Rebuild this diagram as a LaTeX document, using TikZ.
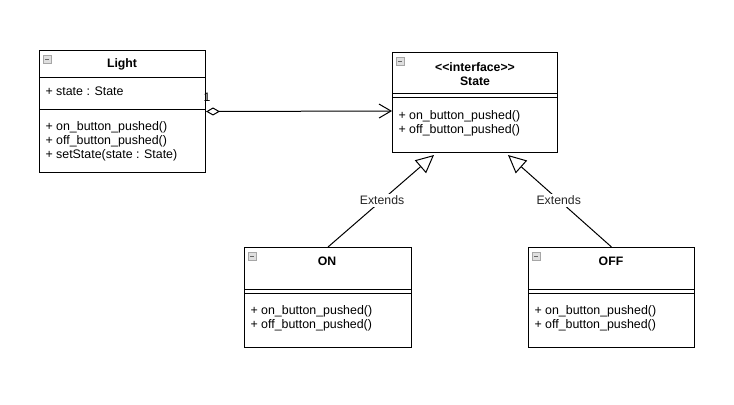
\documentclass[tikz,border=0pt]{standalone}
\usepackage{fontspec}
\setmainfont{Liberation Sans}
\usetikzlibrary{arrows.meta}
\begin{document}
\begin{tikzpicture}[x=0.75pt,y=-0.75pt,line width=0.75pt,
  classbox/.style={draw=black,fill=white,rectangle,anchor=north west,inner sep=0pt},
  title/.style={font=\fontsize{9.2}{10.5}\selectfont\bfseries,inner sep=0pt,align=center},
  member/.style={font=\fontsize{9.3}{10.5}\selectfont,inner sep=0pt,anchor=west,align=left},
  icon/.style={draw=gray!70,fill=gray!25,line width=0.5pt,minimum size=6.2pt,inner sep=0pt,rectangle},
  lbl/.style={font=\fontsize{9.2}{10.5}\selectfont,fill=white,inner sep=1.5pt,text=black!85},
  gen/.style={-{Triangle[open,length=13.5pt,width=12.75pt,fill=white]}},
  agg/.style={{Diamond[open,length=10.5pt,width=6pt,fill=white]}-{Straight Barb[length=9pt,width=10.5pt]}}
]
\useasboundingbox (0,0) rectangle (734,404);

% Light
\node[classbox,minimum width=166*0.75pt,minimum height=122*0.75pt] (light) at (39,50) {};
\draw (39,77) -- (205,77);
\draw (39,109) -- (205,109);
\node[icon] (ilight) at (47,59) {};
\draw[gray!80!black,line width=0.7pt] (44.8,59) -- (49.2,59);
\node[title] (tlight) at (122,64) {Light};
\node[member] (alight) at (45,91) {+ state : State};
\node[member] (mlight) at (45,141.5) {+ on\_button\_pushed()\\+ off\_button\_pushed()\\+ setState(state : State)};

% State
\node[classbox,minimum width=165*0.75pt,minimum height=100*0.75pt] (state) at (392,52) {};
\draw (392,93) -- (557,93);
\draw (392,97) -- (557,97);
\node[icon] (istate) at (400,61) {};
\draw[gray!80!black,line width=0.7pt] (397.8,61) -- (402.2,61);
\node[title] (tstate) at (475,74) {\hbox{<}\hbox{<}interface\hbox{>}\hbox{>}\\State};
\node[member] (mstate) at (398,123.5) {+ on\_button\_pushed()\\+ off\_button\_pushed()};

% ON
\node[classbox,minimum width=167*0.75pt,minimum height=100*0.75pt] (on) at (244,247) {};
\draw (244,289) -- (411,289);
\draw (244,293) -- (411,293);
\node[icon] (ion) at (252,256) {};
\draw[gray!80!black,line width=0.7pt] (249.8,256) -- (254.2,256);
\node[title] (ton) at (327,261) {ON};
\node[member] (mon) at (250,318.5) {+ on\_button\_pushed()\\+ off\_button\_pushed()};

% OFF
\node[classbox,minimum width=166*0.75pt,minimum height=100*0.75pt] (off) at (528,247) {};
\draw (528,289) -- (694,289);
\draw (528,293) -- (694,293);
\node[icon] (ioff) at (536,256) {};
\draw[gray!80!black,line width=0.7pt] (533.8,256) -- (538.2,256);
\node[title] (toff) at (611,261) {OFF};
\node[member] (moff) at (534,318.5) {+ on\_button\_pushed()\\+ off\_button\_pushed()};

% connectors
\coordinate (sin) at (392,111);
\coordinate (ontip) at (434,155);
\coordinate (offtip) at (508,155);
\draw[agg] (light.east) -- (sin);
\node[font=\fontsize{9.2}{10.5}\selectfont,inner sep=0pt] (mult) at (207,97) {1};
\draw[gen] (on.north) -- node[lbl,pos=0.51] (eon) {Extends} (ontip);
\draw[gen] (off.north) -- node[lbl,pos=0.51] (eoff) {Extends} (offtip);
\end{tikzpicture}
\end{document}
